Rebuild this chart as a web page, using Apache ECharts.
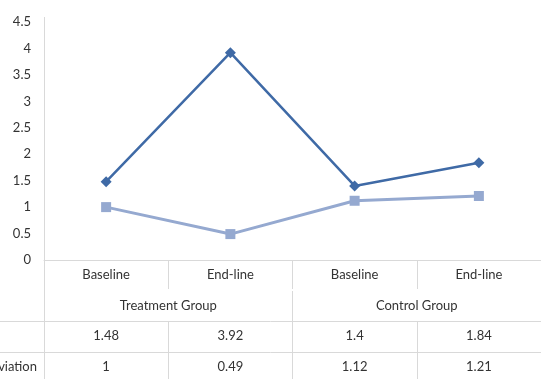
<!DOCTYPE html>
<html><head><meta charset="utf-8">
<script src="https://cdn.jsdelivr.net/npm/echarts@6/dist/echarts.min.js"></script>
<style>html,body{margin:0;padding:0;background:#fff}#c{width:541px;height:379px}</style>
</head><body><div id="c"></div>
<script>
var categories = ['Baseline', 'End-line', 'Baseline', 'End-line'];
var groups = ['Treatment Group', 'Control Group'];
var seriesNames = ['Mean', 'Standard Deviation'];
var meanValues = [1.48, 3.92, 1.4, 1.84];
var sdValues = [1, 0.49, 1.12, 1.21];
var yTicks = [0, 0.5, 1, 1.5, 2, 2.5, 3, 3.5, 4, 4.5];

var FONT = 'Lato';
var FS = 13;
var TXT = '#333333';
var LINE = '#d9d9d9';
var chart = echarts.init(document.getElementById('c'));

function tableAxis(data, offset, tickLen, showLine) {
  return {
    type: 'category', position: 'bottom', offset: offset, data: data,
    boundaryGap: true,
    axisLine: { show: !!showLine, lineStyle: { color: LINE, width: 1 } },
    axisTick: { show: true, length: tickLen, lineStyle: { color: LINE } },
    axisLabel: { color: TXT, fontFamily: FONT, fontSize: FS, margin: 8, interval: 0 },
    splitLine: { show: false }
  };
}

chart.setOption({
  animation: false,
  backgroundColor: '#fff',
  grid: { left: 44, right: -3, top: 22, bottom: 119, containLabel: false },
  xAxis: [
    tableAxis(categories, 0, 29, true),
    tableAxis(groups, 31, 30, false),
    tableAxis(meanValues.map(String), 61, 31, false),
    tableAxis(sdValues.map(String), 92, 30, false)
  ],
  yAxis: {
    type: 'value', min: yTicks[0], max: yTicks[yTicks.length - 1], interval: 0.5,
    axisLine: { show: true, lineStyle: { color: LINE } },
    axisTick: { show: false },
    splitLine: { show: false },
    axisLabel: { color: TXT, fontFamily: FONT, fontSize: FS, margin: 13 }
  },
  series: [
    { name: seriesNames[0], type: 'line', xAxisIndex: 0, data: meanValues,
      symbol: 'diamond', symbolSize: 11, color: '#3f6aa6',
      lineStyle: { width: 2.5, color: '#3f6aa6' }, itemStyle: { color: '#3f6aa6' } },
    { name: seriesNames[1], type: 'line', xAxisIndex: 0, data: sdValues,
      symbol: 'rect', symbolSize: 10, color: '#95a9d0',
      lineStyle: { width: 3, color: '#95a9d0' }, itemStyle: { color: '#95a9d0' } }
  ],
  graphic: [
    { type: 'line', shape: { x1: 44.5, y1: 260, x2: 44.5, y2: 379 }, style: { stroke: LINE, lineWidth: 1 } },
    { type: 'line', shape: { x1: 44.5, y1: 17, x2: 44.5, y2: 22 }, style: { stroke: LINE, lineWidth: 1 } },
    { type: 'line', shape: { x1: 0, y1: 321.5, x2: 541, y2: 321.5 }, style: { stroke: LINE, lineWidth: 1 } },
    { type: 'line', shape: { x1: 0, y1: 352.5, x2: 541, y2: 352.5 }, style: { stroke: LINE, lineWidth: 1 } },
    { type: 'text', x: -75, y: 337, style: { text: seriesNames[0], fill: TXT, font: FS + 'px ' + FONT, textVerticalAlign: 'middle' } },
    { type: 'text', x: 37, y: 367, style: { text: seriesNames[1], fill: TXT, font: FS + 'px ' + FONT, textAlign: 'right', textVerticalAlign: 'middle' } }
  ]
});
</script></body></html>
